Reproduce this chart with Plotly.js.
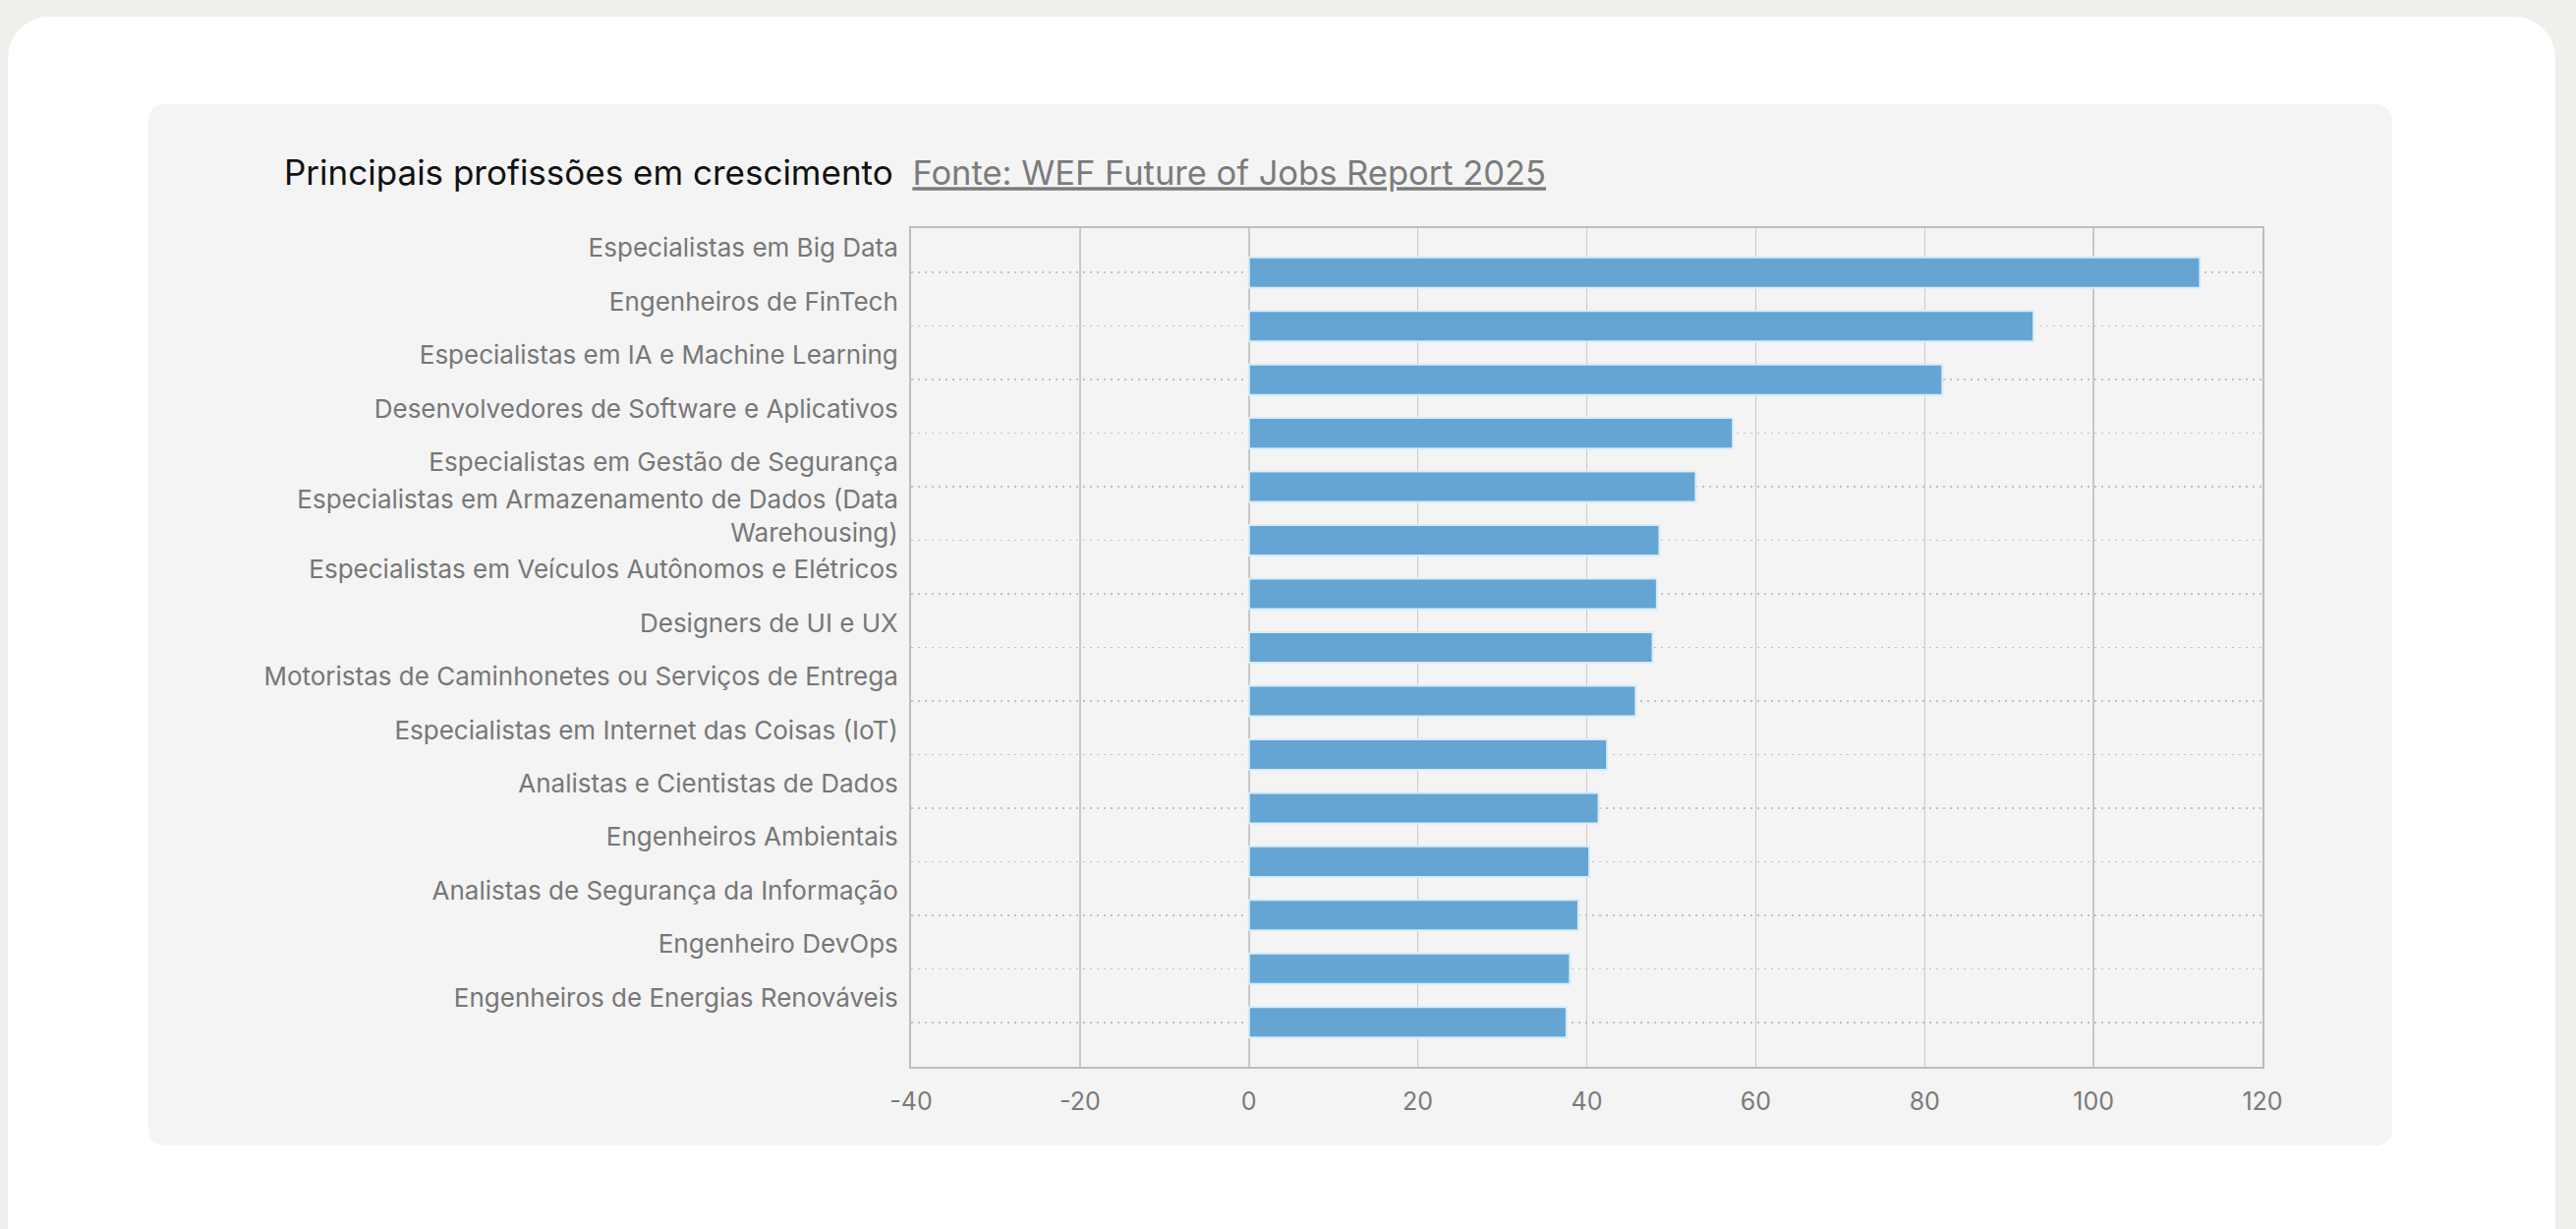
<!DOCTYPE html>
<html>
<head>
<meta charset="utf-8">
<script src="https://cdn.plot.ly/plotly-3.0.1.min.js"></script>
<style>
  html, body { margin: 0; padding: 0; background: #f0efeb; width: 2621px; height: 1250px; overflow: hidden; }
  #card { position: absolute; left: 8px; top: 17px; width: 2592px; height: 1300px; background: #ffffff; border-radius: 42px; }
  #panel { position: absolute; left: 151px; top: 106px; width: 2283px; height: 1059px; background: #f4f4f4; border-radius: 16px; }
  #chart { position: absolute; left: 0; top: 0; width: 2621px; height: 1250px; }
</style>
</head>
<body>
<div id="card"></div>
<div id="panel"></div>
<div id="chart"></div>
<script>
const categories = [
  "Especialistas em Big Data",
  "Engenheiros de FinTech",
  "Especialistas em IA e Machine Learning",
  "Desenvolvedores de Software e Aplicativos",
  "Especialistas em Gestão de Segurança",
  "Especialistas em Armazenamento de Dados (Data<br>Warehousing)",
  "Especialistas em Veículos Autônomos e Elétricos",
  "Designers de UI e UX",
  "Motoristas de Caminhonetes ou Serviços de Entrega",
  "Especialistas em Internet das Coisas (IoT)",
  "Analistas e Cientistas de Dados",
  "Engenheiros Ambientais",
  "Analistas de Segurança da Informação",
  "Engenheiro DevOps",
  "Engenheiros de Energias Renováveis"
];
const values = [112.6, 92.9, 82.1, 57.3, 52.9, 48.6, 48.3, 47.8, 45.8, 42.4, 41.4, 40.3, 39.0, 38.0, 37.6];
const xTicks = [-40, -20, 0, 20, 40, 60, 80, 100, 120];
const titleText = "Principais profissões em crescimento";
const sourceText = "Fonte: WEF Future of Jobs Report 2025";

const trace = {
  type: "bar",
  orientation: "h",
  x: values,
  y: categories,
  marker: { color: "#64a5d4", line: { color: "#d8ecf8", width: 2 } },
  hoverinfo: "x+y"
};

const layout = {
  width: 2621,
  height: 1250,
  paper_bgcolor: "rgba(0,0,0,0)",
  plot_bgcolor: "#f4f4f4",
  margin: { l: 927, r: 319, t: 232, b: 165, pad: 0 },
  bargap: 0.43,
  showlegend: false,
  font: { family: "Inter, 'Noto Sans', sans-serif", color: "#777777", size: 26 },
  title: {
    text: titleText + "\u00a0\u00a0<span style='color:#7b7b7b;font-size:34.5px'><u>" + sourceText + "</u></span>",
    font: { family: "Inter, 'Noto Sans', sans-serif", size: 35, color: "#111111" },
    xref: "container", x: 289 / 2621, xanchor: "left",
    yref: "container", y: 1 - 176 / 1250, yanchor: "middle"
  },
  xaxis: {
    range: [-40, 120],
    tickvals: xTicks,
    ticktext: xTicks.map(String),
    showgrid: true,
    gridcolor: "#c8c8c8",
    gridwidth: 1.5,
    zeroline: false,
    showline: true,
    linecolor: "#bdbdbd",
    linewidth: 2,
    mirror: true,
    ticks: "",
    ticklabelstandoff: 12,
    tickfont: { size: 25, color: "#7a7a7a" },
    fixedrange: true
  },
  yaxis: {
    type: "category",
    range: [14.83, -0.83],
    showgrid: true,
    gridcolor: "#c0c0c0",
    griddash: "2px,5px",
    gridwidth: 1.5,
    zeroline: false,
    showline: true,
    linecolor: "#bdbdbd",
    linewidth: 2,
    mirror: true,
    ticks: "",
    ticklabelstandoff: 6,
    ticklabelshift: 25,
    tickfont: { size: 26, color: "#777777" },
    automargin: false,
    fixedrange: true
  }
};

Plotly.newPlot("chart", [trace], layout, { displayModeBar: false, staticPlot: true });
</script>
</body>
</html>
